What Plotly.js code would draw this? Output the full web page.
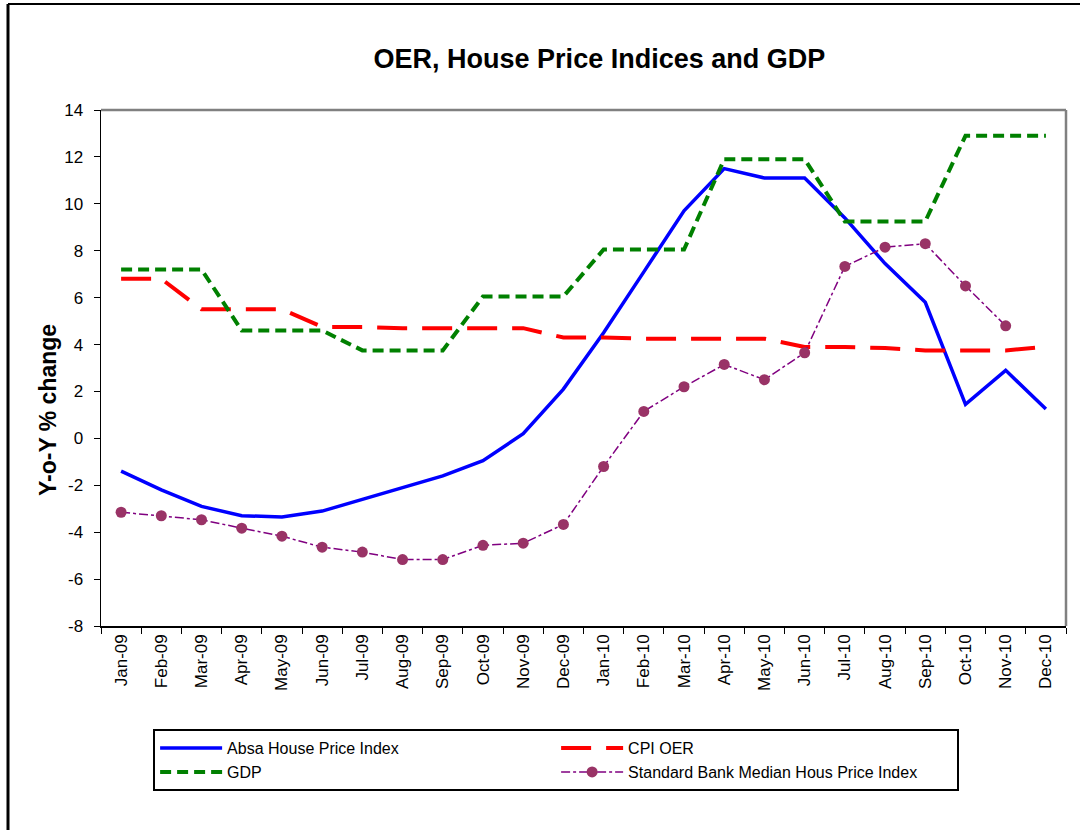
<!DOCTYPE html>
<html>
<head>
<meta charset="utf-8">
<script src="https://cdn.plot.ly/plotly-3.0.1.min.js"></script>
<style>html,body{margin:0;padding:0;background:#fff;}#chart{width:1080px;height:830px;}</style>
</head>
<body>
<div id="chart"></div>
<script>
const months = ["Jan-09","Feb-09","Mar-09","Apr-09","May-09","Jun-09","Jul-09","Aug-09","Sep-09","Oct-09","Nov-09","Dec-09",
                "Jan-10","Feb-10","Mar-10","Apr-10","May-10","Jun-10","Jul-10","Aug-10","Sep-10","Oct-10","Nov-10","Dec-10"];
const absa = [-1.4,-2.2,-2.9,-3.3,-3.35,-3.1,-2.6,-2.1,-1.6,-0.95,0.2,2.1,
              4.5,7.1,9.7,11.5,11.1,11.1,9.4,7.45,5.8,1.45,2.9,1.25];
const cpiOer = [6.8,6.8,5.5,5.5,5.5,4.75,4.75,4.7,4.7,4.7,4.7,4.3,
                4.3,4.25,4.25,4.25,4.25,3.9,3.9,3.85,3.75,3.75,3.75,3.9];
const gdp = [7.2,7.2,7.2,4.6,4.6,4.6,3.75,3.75,3.75,6.05,6.05,6.05,
             8.05,8.05,8.05,11.9,11.9,11.9,9.25,9.25,9.25,12.9,12.9,12.9];
const stdBank = [-3.15,-3.3,-3.47,-3.83,-4.17,-4.64,-4.85,-5.17,-5.17,-4.56,-4.47,-3.67,
                 -1.2,1.15,2.2,3.15,2.5,3.65,7.33,8.15,8.3,6.5,4.8,null];
const yTicks = [-8,-6,-4,-2,0,2,4,6,8,10,12,14];

const font = "Liberation Sans, Arial, sans-serif";
const traces = [
  {x: months, y: absa, name: "Absa House Price Index", type: "scatter", mode: "lines",
   line: {color: "#0000ff", width: 3.5}},
  {x: months, y: cpiOer, name: "CPI OER", type: "scatter", mode: "lines",
   line: {color: "#ff0000", width: 4, dash: "30px,15px"}},
  {x: months, y: gdp, name: "GDP", type: "scatter", mode: "lines",
   line: {color: "#008000", width: 4, dash: "11px,6px"}},
  {x: months, y: stdBank, name: "Standard Bank Median Hous Price Index", type: "scatter", mode: "lines+markers",
   line: {color: "#800080", width: 1.5, dash: "dashdot"},
   marker: {color: "#993366", size: 11}}
];

const layout = {
  width: 1080, height: 830,
  paper_bgcolor: "#ffffff", plot_bgcolor: "#ffffff",
  margin: {l: 101, r: 14, t: 110, b: 204},
  font: {family: font, color: "#000"},
  title: {text: "OER, House Price Indices and GDP", font: {family: font, size: 27, color: "#000", weight: "bold"},
          x: 0.555, xanchor: "center", y: 0.93, yanchor: "middle"},
  showlegend: true,
  legend: {orientation: "h", x: 0.054, xanchor: "left", y: -0.2, yanchor: "top",
           bordercolor: "#000", borderwidth: 2, bgcolor: "#fff",
           itemwidth: 62, entrywidth: 324, entrywidthmode: "pixels", traceorder: "normal",
           font: {family: font, size: 16, color: "#000"}, tracegroupgap: 0},
  xaxis: {type: "category", categoryorder: "array", categoryarray: months, range: [-0.5, 23.5],
          tickangle: -90, tickfont: {family: font, size: 17, color: "#000"},
          ticks: "outside", ticklen: 6, tickcolor: "#000", tickson: "boundaries",
          showline: true, linecolor: "#000", linewidth: 1.5, showgrid: false, zeroline: false, fixedrange: true},
  yaxis: {range: [-8, 14], tickvals: yTicks, ticktext: yTicks.map(String),
          tickfont: {family: font, size: 17, color: "#000"},
          ticks: "outside", ticklen: 6, tickcolor: "#000", ticklabelstandoff: 7,
          showline: true, linecolor: "#000", linewidth: 1.5, showgrid: false, zeroline: false},
  annotations: [
    {text: "Y-o-Y % change", xref: "paper", yref: "paper", x: (48-101)/965, y: (626-410)/516,
     xanchor: "center", yanchor: "middle", textangle: -90, showarrow: false,
     font: {family: font, size: 23, color: "#000", weight: "bold"}}
  ],
  shapes: [
    {type: "line", xref: "paper", yref: "paper", x0: 0, x1: 1, y0: 1, y1: 1, line: {color: "#808080", width: 2.5}},
    {type: "line", xref: "paper", yref: "paper", x0: 1, x1: 1, y0: 0, y1: 1, line: {color: "#808080", width: 2.5}},
    {type: "line", xref: "paper", yref: "paper", x0: (8-101)/965, x1: (8-101)/965, y0: (626-4)/516, y1: (626-830)/516, line: {color: "#000", width: 3}},
    {type: "line", xref: "paper", yref: "paper", x0: (8-101)/965, x1: (1080-101)/965, y0: (626-4)/516, y1: (626-4)/516, line: {color: "#000", width: 2}}
  ]
};
Plotly.newPlot("chart", traces, layout, {displayModeBar: false, staticPlot: true});
</script>
</body>
</html>
